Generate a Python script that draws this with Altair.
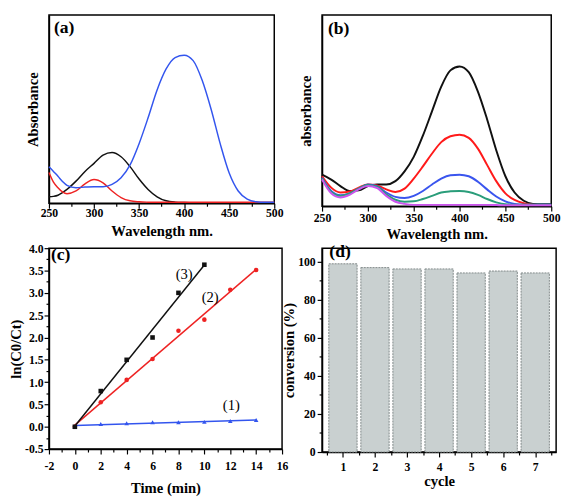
import altair as alt
import pandas as pd

FONT = "Liberation Serif"

# ---------------- panel (a) ----------------
WL_A = [250, 255, 260, 265, 270, 280, 290, 300, 310, 320, 330, 340, 350, 360,
        370, 380, 390, 400, 410, 420, 430, 440, 450, 460, 470, 480, 490, 500]
A_BLACK = [0.034, 0.036, 0.042, 0.055, 0.072, 0.115, 0.165, 0.207, 0.250, 0.263,
           0.241, 0.190, 0.126, 0.072, 0.034, 0.013, 0.006, 0.004, 0.003, 0.003,
           0.003, 0.003, 0.003, 0.003, 0.003, 0.003, 0.003, 0.003]
A_RED = [0.160, 0.110, 0.081, 0.059, 0.050, 0.064, 0.101, 0.123, 0.106, 0.064,
         0.030, 0.013, 0.008, 0.006, 0.005, 0.005, 0.005, 0.005, 0.005, 0.005,
         0.005, 0.005, 0.005, 0.005, 0.005, 0.005, 0.005, 0.005]
A_BLUE = [0.190, 0.165, 0.140, 0.113, 0.093, 0.081, 0.084, 0.086, 0.086, 0.098,
          0.132, 0.199, 0.309, 0.443, 0.587, 0.696, 0.755, 0.767, 0.739, 0.637,
          0.486, 0.309, 0.157, 0.064, 0.022, 0.008, 0.005, 0.005]

# ---------------- panel (b) ----------------
WL_B = [250, 260, 270, 280, 290, 300, 310, 320, 330, 340, 350, 360, 370,
        380, 390, 400, 410, 420, 430, 440, 450, 460, 470, 480, 490, 500]
B_BLACK = [0.161, 0.136, 0.103, 0.078, 0.081, 0.103, 0.111, 0.111, 0.128, 0.178,
           0.252, 0.360, 0.485, 0.610, 0.693, 0.713, 0.684, 0.585, 0.444, 0.286,
           0.153, 0.070, 0.028, 0.012, 0.010, 0.010]
B_RED = [0.153, 0.095, 0.070, 0.075, 0.095, 0.111, 0.106, 0.086, 0.073, 0.090,
         0.141, 0.203, 0.269, 0.327, 0.357, 0.365, 0.349, 0.294, 0.211, 0.128,
         0.066, 0.032, 0.015, 0.008, 0.007, 0.007]
B_BLUE = [0.145, 0.078, 0.056, 0.066, 0.090, 0.111, 0.103, 0.070, 0.048, 0.042,
          0.053, 0.078, 0.111, 0.141, 0.158, 0.161, 0.153, 0.125, 0.086, 0.050,
          0.025, 0.012, 0.008, 0.008, 0.008, 0.008]
B_GREEN = [0.141, 0.073, 0.053, 0.065, 0.090, 0.108, 0.100, 0.061, 0.033, 0.023,
           0.025, 0.037, 0.053, 0.070, 0.076, 0.078, 0.073, 0.058, 0.037, 0.020,
           0.010, 0.008, 0.008, 0.008, 0.008, 0.008]
B_PURPLE = [0.136, 0.066, 0.045, 0.058, 0.086, 0.103, 0.093, 0.053, 0.023, 0.012,
            0.007, 0.007, 0.007, 0.007, 0.007, 0.007, 0.007, 0.007, 0.007, 0.006,
            0.005, 0.005, 0.005, 0.005, 0.005, 0.005]

# ---------------- panel (c) ----------------
T_LONG = [0, 2, 4, 6, 8, 10, 12, 14]
T_SHORT = [0, 2, 4, 6, 8, 10]
C1 = [0.0, 0.06, 0.08, 0.10, 0.10, 0.11, 0.13, 0.15]
C2 = [0.0, 0.55, 1.05, 1.52, 2.15, 2.40, 3.07, 3.51]
C3 = [0.0, 0.80, 1.50, 2.00, 3.00, 3.63]
C_LABELS = ["(1)", "(2)", "(3)"]
C_LABEL_X = [12.08, 10.45, 8.44]
C_LABEL_Y = [0.48, 2.90, 3.41]

# ---------------- panel (d) ----------------
CYCLES = [1, 2, 3, 4, 5, 6, 7]
CONVERSION = [98.8, 96.8, 96.1, 96.1, 94.0, 95.0, 94.0]


def spectra_df(wl, curves):
    rows = []
    for name, vals in curves:
        for w, v in zip(wl, vals):
            rows.append({"wl": w, "ab": v, "curve": name})
    return pd.DataFrame(rows)


def minor(test, big=5, small=3):
    return {"condition": {"test": test, "value": big}, "value": small}


WL_TICKS = list(range(250, 501, 25))
wl_test = "datum.value % 50 === 0"

AX = dict(labelOverlap=False, labelFlush=False, grid=False)


def spectra_panel(df, names, colors, ytitle, w, h, tag, tag_x, tag_y, sw, lpad, tpad):
    x = alt.X("wl:Q", scale=alt.Scale(domain=[250, 500.001], nice=False, zero=False),
              axis=alt.Axis(values=WL_TICKS, labelExpr=f"{wl_test} ? datum.label : ''",
                            tickSize=minor(wl_test), title="Wavelength nm.",
                            labelPadding=lpad, titlePadding=tpad, **AX))
    y = alt.Y("ab:Q", scale=alt.Scale(domain=[0, 0.975], nice=False),
              axis=alt.Axis(labels=False, ticks=False, title=ytitle, titlePadding=9,
                            grid=False))
    lines = alt.Chart(df).mark_line(strokeWidth=sw, interpolate="monotone").encode(
        x=x, y=y,
        color=alt.Color("curve:N", scale=alt.Scale(domain=names, range=colors), legend=None),
        order=alt.Order("wl:Q"),
    )
    tdf = pd.DataFrame({"wl": [tag_x], "ab": [tag_y], "t": [tag]})
    text = alt.Chart(tdf).mark_text(font=FONT, fontWeight="bold", fontSize=18,
                                    align="left", baseline="middle", color="black").encode(
        x=x, y=y, text="t:N")
    return alt.layer(lines, text).properties(width=w, height=h)


df_a = spectra_df(WL_A, [("a1", A_BLACK), ("a2", A_RED), ("a3", A_BLUE)])
panel_a = spectra_panel(df_a, ["a1", "a2", "a3"], ["#111111", "#ee2222", "#3355ee"],
                        "Absorbance", 231, 193, "(a)", 255.5, 0.905, 1.5, 0, 5)

df_b = spectra_df(WL_B, [("b1", B_BLACK), ("b2", B_RED), ("b3", B_BLUE),
                         ("b4", B_GREEN), ("b5", B_PURPLE)])
panel_b = spectra_panel(df_b, ["b1", "b2", "b3", "b4", "b5"],
                        ["#111111", "#ff1a1a", "#3a55ee", "#2a9d7a", "#cc55ee"],
                        "absorbance", 235, 196, "(b)", 256.5, 0.905, 2, 2, 3)

# panel (c)
rows = []
for name, ts, vs in [("(1)", T_LONG, C1), ("(2)", T_LONG, C2), ("(3)", T_SHORT, C3)]:
    for t, v in zip(ts, vs):
        rows.append({"t": t, "v": v, "s": name})
df_c = pd.DataFrame(rows)
c_names = ["(1)", "(2)", "(3)"]
c_colors = ["#3355ee", "#ee2222", "#111111"]

c_x_test = "datum.value % 2 === 0"
c_y_test = "abs(datum.value * 2 - round(datum.value * 2)) < 0.001"
cx = alt.X("t:Q", scale=alt.Scale(domain=[-2, 16.0005], nice=False, zero=False),
           axis=alt.Axis(values=list(range(-2, 17)),
                         labelExpr=f"{c_x_test} ? replace(format(datum.value, 'd'), '\u2212', '-') : ''",
                         tickSize=minor(c_x_test), title="Time (min)", labelPadding=7,
                         titlePadding=10, **AX))
cy = alt.Y("v:Q", scale=alt.Scale(domain=[-0.5, 4.0005], nice=False, zero=False),
           axis=alt.Axis(values=[i * 0.25 for i in range(-2, 17)],
                         labelExpr=f"{c_y_test} ? replace(format(datum.value, '.1f'), '\u2212', '-') : ''",
                         tickSize=minor(c_y_test), title="ln(C0/Ct)", labelPadding=1,
                         titlePadding=1, **AX))
c_color = alt.Color("s:N", scale=alt.Scale(domain=c_names, range=c_colors), legend=None)

c_lines = alt.Chart(df_c).transform_regression("t", "v", groupby=["s"]).mark_line(
    strokeWidth=1.5).encode(x=cx, y=cy, color=c_color)
c_points = alt.Chart(df_c).mark_point(filled=True, size=22, opacity=1).encode(
    x=cx, y=cy, color=c_color,
    shape=alt.Shape("s:N", scale=alt.Scale(domain=c_names,
                                           range=["triangle-up", "circle", "square"]),
                    legend=None))
df_cl = pd.DataFrame({"t": C_LABEL_X, "v": C_LABEL_Y, "lab": C_LABELS})
c_labels = alt.Chart(df_cl).mark_text(font=FONT, fontSize=15, color="black").encode(
    x=cx, y=cy, text="lab:N")
df_ct = pd.DataFrame({"t": [-1.85], "v": [3.85], "lab": ["(c)"]})
c_tag = alt.Chart(df_ct).mark_text(font=FONT, fontWeight="bold", fontSize=18,
                                   align="left", color="black").encode(
    x=cx, y=cy, text="lab:N")
panel_c = alt.layer(c_lines, c_points, c_labels, c_tag).properties(width=239, height=206)

# panel (d)
df_d = pd.DataFrame({"cycle": CYCLES, "conv": CONVERSION})
d_x_test = "datum.value % 1 === 0"
d_test = "datum.value % 20 === 0"
dx = alt.X("cycle:Q", scale=alt.Scale(domain=[0.5, 7.5], nice=False, zero=False),
           axis=alt.Axis(values=[i * 0.5 for i in range(1, 16)],
                         labelExpr=f"{d_x_test} ? format(datum.value, 'd') : ''",
                         tickSize=minor(d_x_test, 5, 3), title="cycle",
                         labelPadding=5, titlePadding=1, **AX))
dy = alt.Y("conv:Q", scale=alt.Scale(domain=[0, 107], nice=False),
           axis=alt.Axis(values=list(range(0, 101, 10)),
                         labelExpr=f"{d_test} ? datum.label : ''",
                         tickSize=minor(d_test), title="conversion (%)",
                         labelPadding=2, titlePadding=1, **AX))
d_bars = alt.Chart(df_d).mark_bar(size=29, fill="#c9d0d0", stroke="#7f8888",
                                  strokeWidth=1, strokeDash=[2, 1]).encode(x=dx, y=dy)
df_dt = pd.DataFrame({"cycle": [1], "conv": [105], "lab": ["(d)"]})
d_tag = alt.Chart(df_dt).mark_text(font=FONT, fontWeight="bold", fontSize=18,
                                   color="black", dx=-3).encode(
    x=dx, y=dy, text="lab:N")
panel_d = alt.layer(d_bars, d_tag).properties(width=240, height=209)

chart = alt.concat(panel_a, panel_b, panel_c, panel_d, columns=2,
                   spacing={"row": 43, "column": 41}, bounds="flush").resolve_scale(
    color="independent", shape="independent"
).properties(
    padding={"left": 0, "top": 0, "right": 0, "bottom": 0},
    background="white",
).configure_view(
    stroke="black", strokeWidth=1.5
).configure_axis(
    labelFont=FONT, labelFontWeight="bold", labelFontSize=12, labelColor="black",
    titleFont=FONT, titleFontWeight="bold", titleFontSize=15, titleColor="black",
    domainColor="black", domainWidth=1.5, tickColor="black", tickWidth=1.2,
    grid=False, labelOverlap=False
)

chart.save("out.html", embed_options={"renderer": "svg", "actions": False})
